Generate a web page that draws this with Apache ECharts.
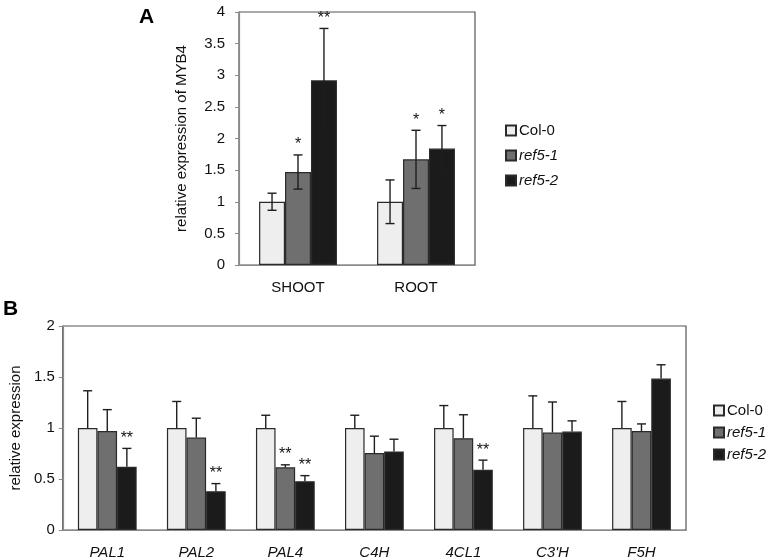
<!DOCTYPE html>
<html>
<head>
<meta charset="utf-8">
<script src="https://cdn.jsdelivr.net/npm/echarts@6/dist/echarts.min.js"></script>
<style>html,body{margin:0;padding:0;background:#fff;}#c{width:771px;height:560px;}</style>
</head>
<body>
<div id="c"></div>
<script>
// ---------- DATA ----------
const seriesNames = ['Col-0', 'ref5-1', 'ref5-2'];

// Panel A: MYB4
const catA = ['SHOOT', 'ROOT'];
const A_col0 = [1.0, 1.0];
const A_ref51 = [1.47, 1.67];
const A_ref52 = [2.92, 1.84];
const A_err_col0 = [0.135, 0.345];
const A_err_ref51 = [0.27, 0.46];
const A_err_ref52 = [0.82, 0.365];
const A_sig_col0 = ['', ''];
const A_sig_ref51 = ['*', '*'];
const A_sig_ref52 = ['**', '*'];
const A_ticks = [0, 0.5, 1, 1.5, 2, 2.5, 3, 3.5, 4];

// Panel B: phenylpropanoid genes
const catB = ['PAL1', 'PAL2', 'PAL4', 'C4H', '4CL1', "C3'H", 'F5H'];
const B_col0 = [1, 1, 1, 1, 1, 1, 1];
const B_ref51 = [0.97, 0.906, 0.614, 0.755, 0.90, 0.955, 0.97];
const B_ref52 = [0.62, 0.38, 0.478, 0.77, 0.59, 0.965, 1.485];
const B_err_col0 = [0.365, 0.26, 0.125, 0.125, 0.22, 0.315, 0.26];
const B_err_ref51 = [0.21, 0.19, 0.025, 0.165, 0.23, 0.30, 0.07];
const B_err_ref52 = [0.18, 0.075, 0.055, 0.12, 0.095, 0.105, 0.135];
const B_sig_col0 = ['', '', '', '', '', '', ''];
const B_sig_ref51 = ['', '', '**', '', '', '', ''];
const B_sig_ref52 = ['**', '**', '**', '', '**', '', ''];
const B_ticks = [0, 0.5, 1, 1.5, 2];

// ---------- STYLE ----------
const fills = ['#eeeeee', '#6f6f6f', '#1b1b1b'];
const FONT = 'Liberation Sans, Arial, sans-serif';
const BAR_FRAC = 0.22;

function barSeries(name, data, idx, axisIdx) {
  return {
    name: name, type: 'bar', xAxisIndex: axisIdx, yAxisIndex: axisIdx,
    data: data, barWidth: (BAR_FRAC * 100) + '%', barGap: '0%',
    itemStyle: { color: fills[idx], borderColor: '#2a2a2a', borderWidth: 1.2 },
    emphasis: { disabled: true }, silent: true, z: 2
  };
}

function errSeries(vals, errs, sigs, idx, axisIdx, twoSided) {
  const offset = (idx - 1) * BAR_FRAC;
  return {
    type: 'custom', xAxisIndex: axisIdx, yAxisIndex: axisIdx, z: 5, silent: true,
    data: vals.map((v, i) => [i, v, errs[i]]),
    encode: { x: 0, y: 1 },
    renderItem: function (params, api) {
      const ci = api.value(0), v = api.value(1), e = api.value(2);
      const band = api.size([1, 0])[0];
      const c = api.coord([ci, v]);
      const x = c[0] + offset * band;
      const top = api.coord([ci, v + e])[1];
      const bot = twoSided ? api.coord([ci, v - e])[1] : c[1];
      const cap = 4.5;
      const st = { stroke: '#1e1e1e', lineWidth: 1.4 };
      const children = [
        { type: 'line', shape: { x1: x, y1: top, x2: x, y2: bot }, style: st },
        { type: 'line', shape: { x1: x - cap, y1: top, x2: x + cap, y2: top }, style: st }
      ];
      if (twoSided) children.push({ type: 'line', shape: { x1: x - cap, y1: bot, x2: x + cap, y2: bot }, style: st });
      const s = sigs[params.dataIndex];
      if (s) children.push({ type: 'text', style: { text: s, x: x, y: top - 2, textAlign: 'center', textVerticalAlign: 'bottom', font: '16px ' + FONT, fill: '#111' } });
      return { type: 'group', children: children };
    }
  };
}

function legendFmt(n) { return n === 'Col-0' ? '{n|' + n + '}' : '{i|' + n + '}'; }
const legendText = { fontFamily: FONT, fontSize: 15, color: '#111', padding: [0, 0, 0, -2],
  rich: { n: { fontFamily: FONT, fontSize: 15, color: '#111' }, i: { fontFamily: FONT, fontSize: 15, fontStyle: 'italic', color: '#111' } } };

function yAx(gi, ticks, name, gap, margin) {
  return {
    type: 'value', gridIndex: gi, min: ticks[0], max: ticks[ticks.length - 1], interval: ticks[1] - ticks[0],
    name: name, nameLocation: 'middle', nameGap: gap, nameRotate: 90,
    nameTextStyle: { fontFamily: FONT, fontSize: 15, color: '#111' },
    axisLine: { show: true, lineStyle: { color: '#8a8a8a', width: 1.2 } },
    axisTick: { show: true, length: 4, lineStyle: { color: '#8a8a8a' } },
    axisLabel: { fontFamily: FONT, fontSize: 15, color: '#111', margin: margin },
    splitLine: { show: false }
  };
}
function xAx(gi, cats, italic) {
  return {
    type: 'category', gridIndex: gi, data: cats,
    axisLine: { show: true, lineStyle: { color: '#8a8a8a', width: 1.2 } },
    axisTick: { show: false },
    axisLabel: { fontFamily: FONT, fontSize: 15, color: '#111', margin: 15, fontStyle: italic ? 'italic' : 'normal' }
  };
}

const chart = echarts.init(document.getElementById('c'), null, { renderer: 'canvas' });
chart.setOption({
  animation: false,
  backgroundColor: '#fff',
  grid: [
    { left: 239, top: 12, width: 236, height: 253, show: true, borderColor: '#555', borderWidth: 1.2, backgroundColor: 'transparent' },
    { left: 61, top: 326, width: 625, height: 205, show: true, borderColor: '#555', borderWidth: 1.2, backgroundColor: 'transparent' }
  ],
  xAxis: [xAx(0, catA, false), xAx(1, catB, true)],
  yAxis: [yAx(0, A_ticks, 'relative expression of MYB4', 50, 14), yAx(1, B_ticks, 'relative expression', 24, 8)],
  legend: [
    { data: seriesNames, left: 500, top: 118, orient: 'vertical', itemWidth: 10, itemHeight: 10, itemGap: 10,
      icon: 'rect', formatter: legendFmt, textStyle: legendText, selectedMode: false },
    { data: seriesNames, left: 708, top: 398, orient: 'vertical', itemWidth: 10, itemHeight: 10, itemGap: 7,
      icon: 'rect', formatter: legendFmt, textStyle: legendText, selectedMode: false }
  ],
  graphic: [
    { type: 'text', left: 139, top: 7, style: { text: 'A', font: 'bold 21px ' + FONT, fill: '#000' } },
    { type: 'text', left: 3, top: 299, style: { text: 'B', font: 'bold 21px ' + FONT, fill: '#000' } }
  ],
  series: [
    barSeries('Col-0', A_col0, 0, 0),
    barSeries('ref5-1', A_ref51, 1, 0),
    barSeries('ref5-2', A_ref52, 2, 0),
    errSeries(A_col0, A_err_col0, A_sig_col0, 0, 0, true),
    errSeries(A_ref51, A_err_ref51, A_sig_ref51, 1, 0, true),
    errSeries(A_ref52, A_err_ref52, A_sig_ref52, 2, 0, true),
    barSeries('Col-0', B_col0, 0, 1),
    barSeries('ref5-1', B_ref51, 1, 1),
    barSeries('ref5-2', B_ref52, 2, 1),
    errSeries(B_col0, B_err_col0, B_sig_col0, 0, 1, false),
    errSeries(B_ref51, B_err_ref51, B_sig_ref51, 1, 1, false),
    errSeries(B_ref52, B_err_ref52, B_sig_ref52, 2, 1, false)
  ]
});
</script>
</body>
</html>
